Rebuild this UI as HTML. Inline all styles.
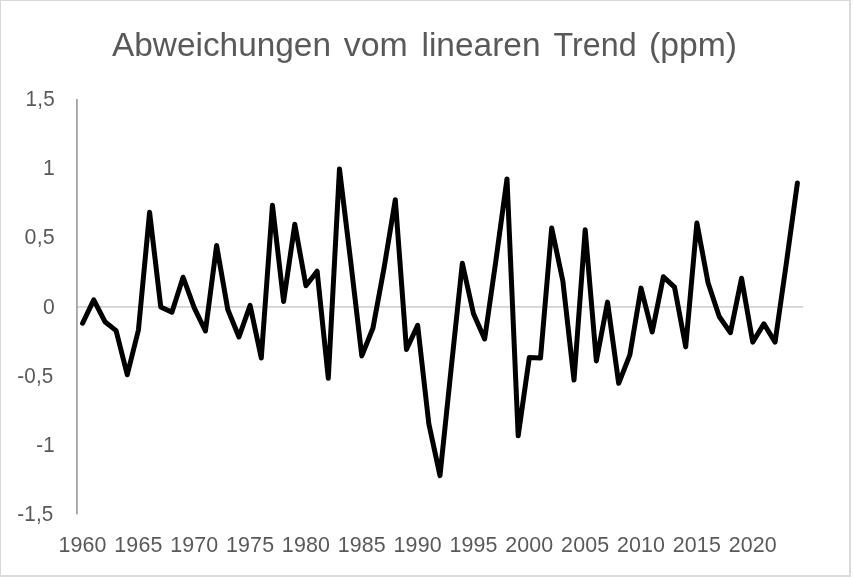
<!DOCTYPE html>
<html lang="de">
<head>
<meta charset="utf-8">
<title>Abweichungen vom linearen Trend (ppm)</title>
<style>
html,body{margin:0;padding:0;background:#fff;}
body{width:853px;height:577px;overflow:hidden;}
svg{display:block;}
text{font-family:"Liberation Sans",sans-serif;fill:#595959;}
.lab text{font-size:21.4px;letter-spacing:0.15px;}
.title text{font-size:33px;}
</style>
</head>
<body>
<svg width="853" height="577" viewBox="0 0 853 577">
<rect x="0" y="0" width="853" height="577" fill="#ffffff"/>
<rect x="0" y="0" width="851" height="1" fill="#d9d9d9"/>
<rect x="0" y="0" width="1" height="577" fill="#d9d9d9"/>
<rect x="849" y="0" width="2" height="577" fill="#dbdbdb"/>
<rect x="0" y="575" width="851" height="2" fill="#dbdbdb"/>
<g class="title">
<text x="112" y="55.6" textLength="219" lengthAdjust="spacingAndGlyphs">Abweichungen</text>
<text x="343.8" y="55.6" textLength="64" lengthAdjust="spacingAndGlyphs">vom</text>
<text x="421.5" y="55.6" textLength="119" lengthAdjust="spacingAndGlyphs">linearen</text>
<text x="553.6" y="55.6" textLength="83" lengthAdjust="spacingAndGlyphs">Trend</text>
<text x="649" y="55.6" textLength="88" lengthAdjust="spacingAndGlyphs">(ppm)</text>
</g>
<line x1="77" y1="306.9" x2="803" y2="306.9" stroke="#d3d3d3" stroke-width="1.7"/>
<line x1="76.9" y1="99" x2="76.9" y2="514.2" stroke="#a6a2a2" stroke-width="1.8"/>
<g class="lab">
<text x="25.6" y="106.1" textLength="29.2" lengthAdjust="spacingAndGlyphs">1,5</text>
<text x="42.9" y="175.1" textLength="11.9" lengthAdjust="spacingAndGlyphs">1</text>
<text x="24.6" y="244.2" textLength="30.2" lengthAdjust="spacingAndGlyphs">0,5</text>
<text x="42.9" y="313.7" textLength="11.9" lengthAdjust="spacingAndGlyphs">0</text>
<text x="17.3" y="382.7" textLength="36.2" lengthAdjust="spacingAndGlyphs">-0,5</text>
<text x="36.3" y="451.7" textLength="18.5" lengthAdjust="spacingAndGlyphs">-1</text>
<text x="17.3" y="520.7" textLength="36.2" lengthAdjust="spacingAndGlyphs">-1,5</text>
</g>
<g class="lab">
<text x="82.58" y="551.7" text-anchor="middle">1960</text>
<text x="138.43" y="551.7" text-anchor="middle">1965</text>
<text x="194.27" y="551.7" text-anchor="middle">1970</text>
<text x="250.12" y="551.7" text-anchor="middle">1975</text>
<text x="305.96" y="551.7" text-anchor="middle">1980</text>
<text x="361.81" y="551.7" text-anchor="middle">1985</text>
<text x="417.65" y="551.7" text-anchor="middle">1990</text>
<text x="473.49" y="551.7" text-anchor="middle">1995</text>
<text x="529.34" y="551.7" text-anchor="middle">2000</text>
<text x="585.19" y="551.7" text-anchor="middle">2005</text>
<text x="641.03" y="551.7" text-anchor="middle">2010</text>
<text x="696.88" y="551.7" text-anchor="middle">2015</text>
<text x="752.72" y="551.7" text-anchor="middle">2020</text>
</g>
<polyline fill="none" stroke="#000000" stroke-width="5" stroke-linejoin="round" stroke-linecap="round" points="82.58,323.25 93.75,299.80 104.92,321.70 116.09,330.60 127.26,374.75 138.43,330.00 149.59,212.25 160.76,306.90 171.93,312.25 183.10,277.25 194.27,307.80 205.44,331.00 216.61,245.50 227.78,309.50 238.95,337.00 250.12,305.40 261.28,358.00 272.45,205.25 283.62,301.45 294.79,224.25 305.96,285.80 317.13,271.20 328.30,378.35 339.47,169.00 350.64,261.00 361.81,355.90 372.97,328.00 384.14,267.50 395.31,199.75 406.48,349.50 417.65,325.30 428.82,423.70 439.99,475.60 451.16,368.50 462.33,263.20 473.50,313.75 484.66,339.00 495.83,261.00 507.00,178.90 518.17,435.80 529.34,357.40 540.51,358.00 551.68,227.90 562.85,281.00 574.02,380.10 585.19,229.70 596.35,360.90 607.52,302.15 618.69,383.30 629.86,354.90 641.03,288.10 652.20,332.00 663.37,276.80 674.54,287.20 685.71,346.90 696.88,222.90 708.04,282.80 719.21,316.50 730.38,332.65 741.55,278.20 752.72,342.10 763.89,323.90 775.06,342.10 786.23,264.00 797.40,183.00"/>
</svg>
</body>
</html>
